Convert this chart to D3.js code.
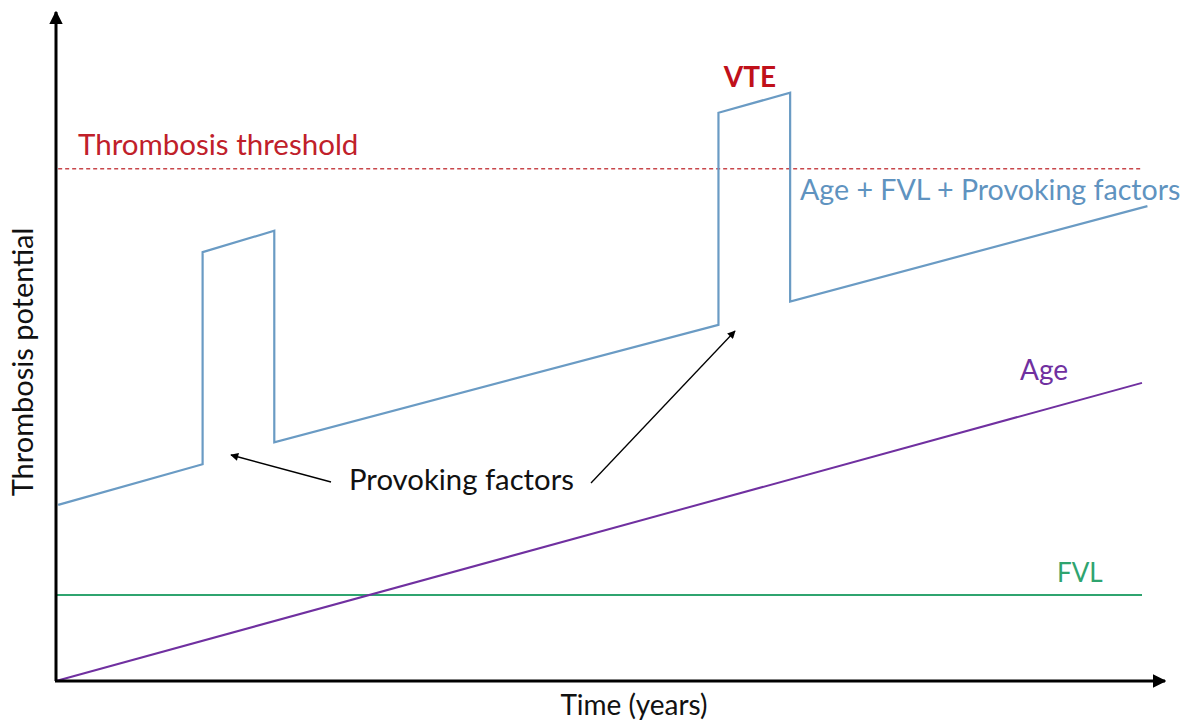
<!DOCTYPE html>
<html><head><meta charset="utf-8">
<script src="https://cdn.jsdelivr.net/npm/d3@7"></script>
<style>body{margin:0;background:#fff}svg{display:block}text{font-family:Lato,"Open Sans",sans-serif}</style>
</head><body><svg id="c" width="1190" height="722"></svg>
<script>
// Data (arbitrary units: time 0-100, thrombosis potential 0-100)
const blueTime  = [0.2, 13.5, 13.5, 20.1, 20.1, 61.0, 61.0, 67.6, 67.6, 100.5];
const blueValue = [26.4, 32.5, 64.3, 67.5, 35.8, 53.4, 85.2, 88.2, 56.9, 71.2];
const ageTime = [0, 100];
const ageValue = [0, 44.7];
const fvlTime = [0, 100];
const fvlValue = [12.9, 12.9];
const thresholdValue = 76.8;
const labels = ["Thrombosis threshold", "VTE", "Age + FVL + Provoking factors", "Age", "FVL", "Provoking factors"];

const svg = d3.select("#c");
const x = d3.scaleLinear().domain([0, 100]).range([56, 1142]);
const y = d3.scaleLinear().domain([0, 100]).range([681, 14]);

const defs = svg.append("defs");
defs.append("marker").attr("id","axArrow").attr("viewBox","0 0 10 10").attr("refX",9).attr("refY",5)
  .attr("markerWidth",4.5).attr("markerHeight",4.5).attr("markerUnits","strokeWidth").attr("orient","auto")
  .append("path").attr("d","M0,0 L10,5 L0,10 z").attr("fill","#000");
defs.append("marker").attr("id","anArrow").attr("viewBox","0 0 10 10").attr("refX",9).attr("refY",5)
  .attr("markerWidth",10).attr("markerHeight",8).attr("markerUnits","userSpaceOnUse").attr("orient","auto")
  .append("path").attr("d","M0,0 L10,5 L0,10 z").attr("fill","#000");

const line = d3.line().x(d => x(d[0])).y(d => y(d[1]));

// threshold
svg.append("line").attr("x1", x(0.2)).attr("x2", x(100)).attr("y1", y(thresholdValue)).attr("y2", y(thresholdValue))
  .attr("stroke","#C8474B").attr("stroke-width",1.3).attr("stroke-dasharray","4,3");

// FVL
svg.append("path").attr("d", line(fvlTime.map((t,i)=>[t,fvlValue[i]]))).attr("fill","none")
  .attr("stroke","#2FA46F").attr("stroke-width",2);
// Age
svg.append("path").attr("d", line(ageTime.map((t,i)=>[t,ageValue[i]]))).attr("fill","none")
  .attr("stroke","#7030A0").attr("stroke-width",2);
// Blue
svg.append("path").attr("d", line(blueTime.map((t,i)=>[t,blueValue[i]]))).attr("fill","none")
  .attr("stroke","#6A9BC4").attr("stroke-width",2.2).attr("stroke-linejoin","miter");

// axes
svg.append("line").attr("x1",56).attr("y1",y(0)).attr("x2",56).attr("y2",12)
  .attr("stroke","#000").attr("stroke-width",3).attr("marker-end","url(#axArrow)");
svg.append("line").attr("x1",55).attr("y1",y(0)).attr("x2",1165).attr("y2",y(0))
  .attr("stroke","#000").attr("stroke-width",3).attr("marker-end","url(#axArrow)");

svg.append("text").attr("x",634).attr("y",715).attr("text-anchor","middle").attr("font-size",28)
  .attr("fill","#111").text("Time (years)");
svg.append("text").attr("transform","translate(33,362) rotate(-90)").attr("text-anchor","middle")
  .attr("font-size",29).attr("fill","#111").text("Thrombosis potential");

// labels
svg.append("text").attr("x",78).attr("y",155).attr("font-size",29.5).attr("fill","#C0202A").text(labels[0]);
svg.append("text").attr("x",750).attr("y",87).attr("text-anchor","middle").attr("font-size",28).attr("font-weight","bold").attr("fill","#C0101A").text(labels[1]);
svg.append("text").attr("x",800).attr("y",200).attr("font-size",28.6).attr("fill","#5F93C0").text(labels[2]);
svg.append("text").attr("x",1020).attr("y",380).attr("font-size",28).attr("fill","#7030A0").text(labels[3]);
svg.append("text").attr("x",1057).attr("y",582).attr("font-size",26).attr("fill","#2FA46F").text(labels[4]);
svg.append("text").attr("x",349).attr("y",490).attr("font-size",29.3).attr("fill","#111").text(labels[5]);

// annotation arrows
svg.append("line").attr("x1",331).attr("y1",482).attr("x2",231).attr("y2",455)
  .attr("stroke","#000").attr("stroke-width",1.3).attr("marker-end","url(#anArrow)");
svg.append("line").attr("x1",591).attr("y1",483).attr("x2",735).attr("y2",331)
  .attr("stroke","#000").attr("stroke-width",1.3).attr("marker-end","url(#anArrow)");
</script></body></html>
